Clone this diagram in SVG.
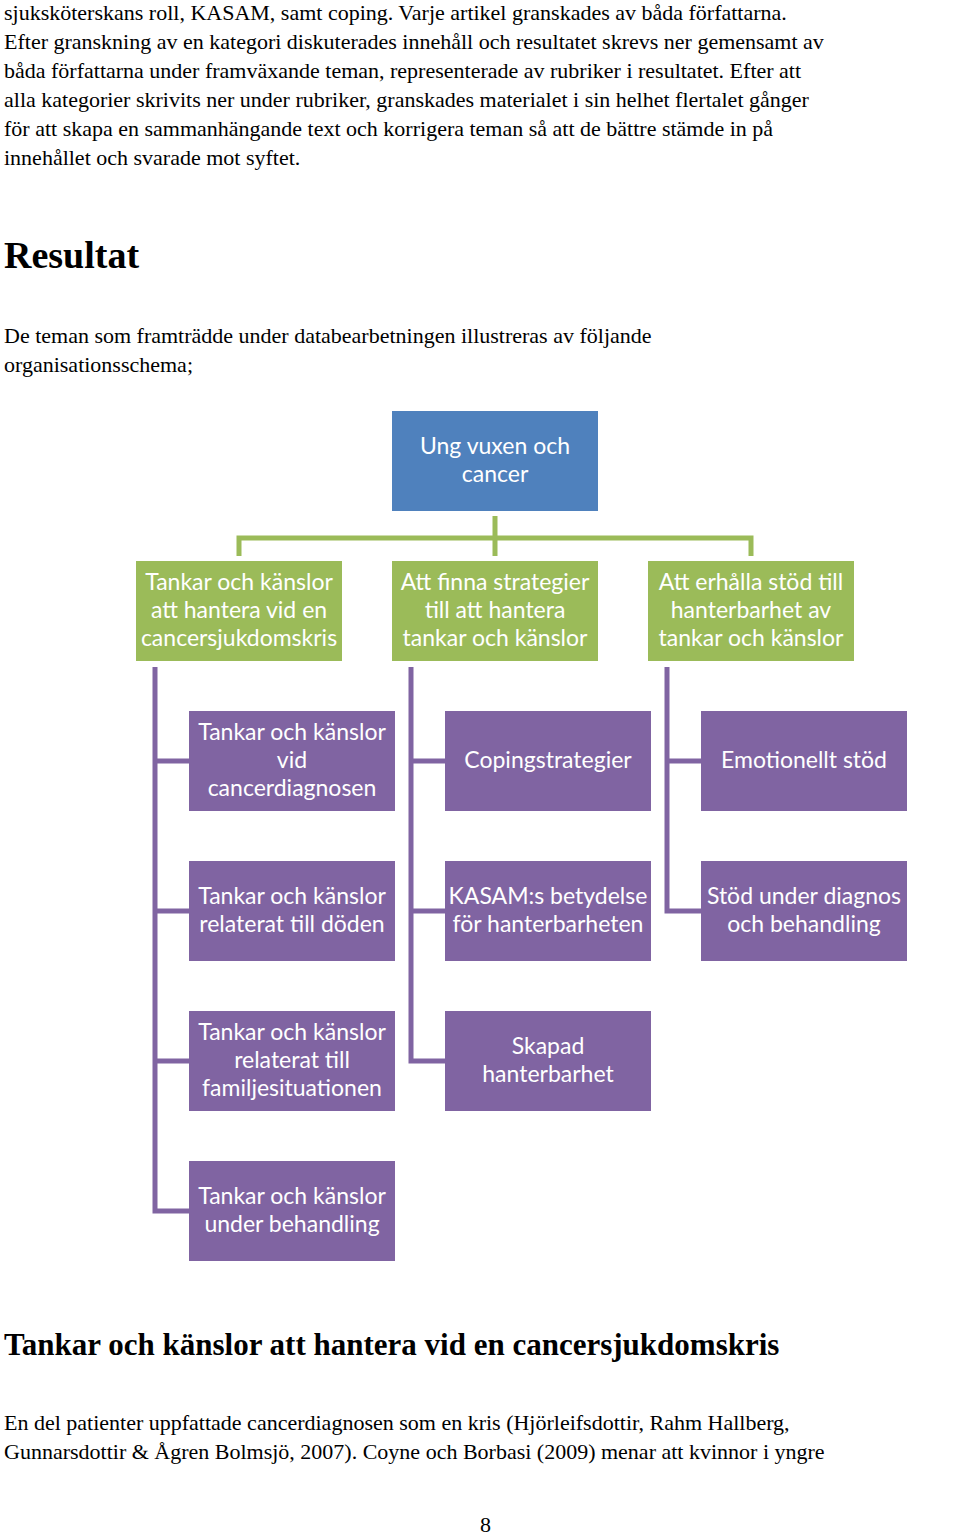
<svg xmlns="http://www.w3.org/2000/svg" width="960" height="1534" viewBox="0 0 960 1534">
<style>
.b{font-family:"Liberation Serif","Times New Roman",serif;font-size:22px;fill:#000}
.h{font-family:"Liberation Serif",serif;font-weight:bold;fill:#000}
.t{font-family:Lato,"Noto Sans",sans-serif;font-size:23px;fill:#fff;text-anchor:middle}
.blue{fill:#4f81bd}.green{fill:#9bbb59}.purple{fill:#8064a2}
.cg{stroke:#9bbb59;stroke-width:5;fill:none}
.cp{stroke:#8064a2;stroke-width:5;fill:none}
</style>
<rect width="960" height="1534" fill="#fff"/>
<g class="b">
<text x="4" y="20">sjuksköterskans roll, KASAM, samt coping. Varje artikel granskades av båda författarna.</text>
<text x="4" y="49">Efter granskning av en kategori diskuterades innehåll och resultatet skrevs ner gemensamt av</text>
<text x="4" y="78">båda författarna under framväxande teman, representerade av rubriker i resultatet. Efter att</text>
<text x="4" y="107">alla kategorier skrivits ner under rubriker, granskades materialet i sin helhet flertalet gånger</text>
<text x="4" y="136">för att skapa en sammanhängande text och korrigera teman så att de bättre stämde in på</text>
<text x="4" y="165">innehållet och svarade mot syftet.</text>
<text x="4" y="343">De teman som framträdde under databearbetningen illustreras av följande</text>
<text x="4" y="372">organisationsschema;</text>
<text x="4" y="1430">En del patienter uppfattade cancerdiagnosen som en kris (Hjörleifsdottir, Rahm Hallberg,</text>
<text x="4" y="1459">Gunnarsdottir &amp; Ågren Bolmsjö, 2007). Coyne och Borbasi (2009) menar att kvinnor i yngre</text>
<text x="480" y="1532">8</text>
</g>
<text class="h" x="4" y="268" font-size="38">Resultat</text>
<text class="h" x="4" y="1355" font-size="31">Tankar och känslor att hantera vid en cancersjukdomskris</text>
<g id="connectors">
<path class="cg" d="M495 516V556M239 556V538H751V556"/>
<path class="cp" d="M155 667V1211H189M155 761H189M155 911H189M155 1061H189"/>
<path class="cp" d="M411 667V1061H445M411 761H445M411 911H445"/>
<path class="cp" d="M667 667V911H701M667 761H701"/>
</g>
<g id="root"><rect class="blue" x="392" y="411" width="206" height="100"/><text class="t" x="495" y="454">Ung vuxen och</text><text class="t" x="495" y="482">cancer</text></g>
<g id="g1"><rect class="green" x="136" y="561" width="206" height="100"/><text class="t" x="239" y="590">Tankar och känslor</text><text class="t" x="239" y="618">att hantera vid en</text><text class="t" x="239" y="646">cancersjukdomskris</text></g>
<g id="g2"><rect class="green" x="392" y="561" width="206" height="100"/><text class="t" x="495" y="590">Att finna strategier</text><text class="t" x="495" y="618">till att hantera</text><text class="t" x="495" y="646">tankar och känslor</text></g>
<g id="g3"><rect class="green" x="648" y="561" width="206" height="100"/><text class="t" x="751" y="590">Att erhålla stöd till</text><text class="t" x="751" y="618">hanterbarhet av</text><text class="t" x="751" y="646">tankar och känslor</text></g>
<g id="p11"><rect class="purple" x="189" y="711" width="206" height="100"/><text class="t" x="292" y="740">Tankar och känslor</text><text class="t" x="292" y="768">vid</text><text class="t" x="292" y="796">cancerdiagnosen</text></g>
<g id="p12"><rect class="purple" x="189" y="861" width="206" height="100"/><text class="t" x="292" y="904">Tankar och känslor</text><text class="t" x="292" y="932">relaterat till döden</text></g>
<g id="p13"><rect class="purple" x="189" y="1011" width="206" height="100"/><text class="t" x="292" y="1040">Tankar och känslor</text><text class="t" x="292" y="1068">relaterat till</text><text class="t" x="292" y="1096">familjesituationen</text></g>
<g id="p14"><rect class="purple" x="189" y="1161" width="206" height="100"/><text class="t" x="292" y="1204">Tankar och känslor</text><text class="t" x="292" y="1232">under behandling</text></g>
<g id="p21"><rect class="purple" x="445" y="711" width="206" height="100"/><text class="t" x="548" y="768">Copingstrategier</text></g>
<g id="p22"><rect class="purple" x="445" y="861" width="206" height="100"/><text class="t" x="548" y="904">KASAM:s betydelse</text><text class="t" x="548" y="932">för hanterbarheten</text></g>
<g id="p23"><rect class="purple" x="445" y="1011" width="206" height="100"/><text class="t" x="548" y="1054">Skapad</text><text class="t" x="548" y="1082">hanterbarhet</text></g>
<g id="p31"><rect class="purple" x="701" y="711" width="206" height="100"/><text class="t" x="804" y="768">Emotionellt stöd</text></g>
<g id="p32"><rect class="purple" x="701" y="861" width="206" height="100"/><text class="t" x="804" y="904">Stöd under diagnos</text><text class="t" x="804" y="932">och behandling</text></g>
</svg>
